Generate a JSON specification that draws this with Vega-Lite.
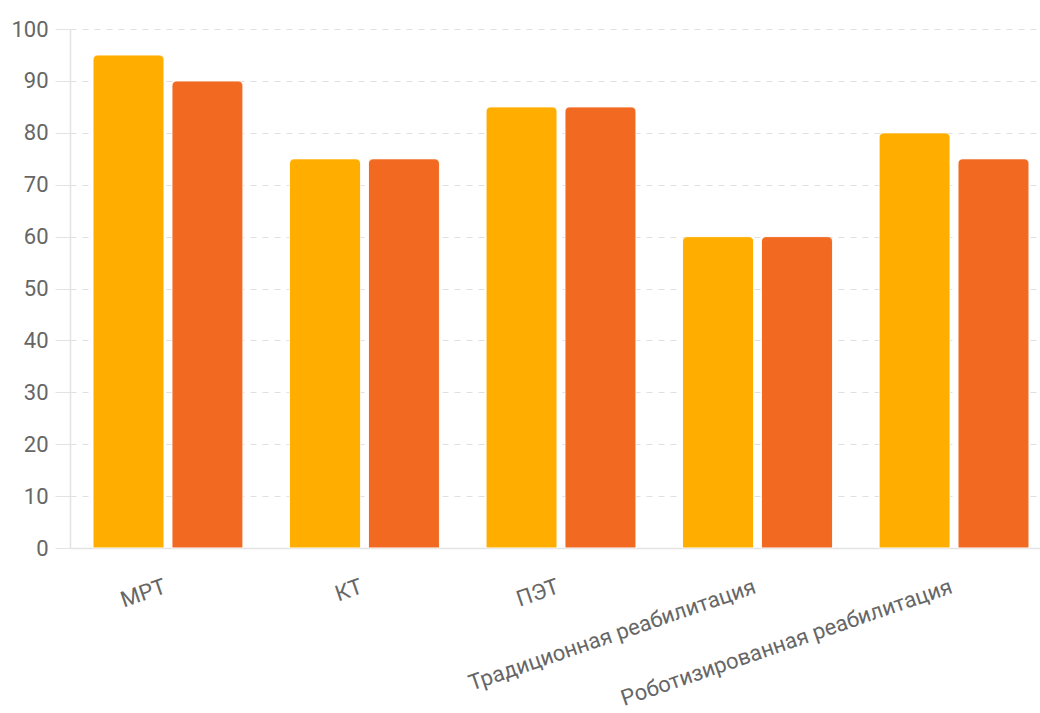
{
  "$schema": "https://vega.github.io/schema/vega-lite/v6.json",
  "autosize": {"type": "none"},
  "padding": {"left": 70, "top": 29, "right": 0, "bottom": 165},
  "width": 970,
  "height": 519,
  "background": "white",
  "data": {"values": [
    {"category": "МРТ", "series": "A", "value": 95},
    {"category": "МРТ", "series": "B", "value": 90},
    {"category": "КТ", "series": "A", "value": 75},
    {"category": "КТ", "series": "B", "value": 75},
    {"category": "ПЭТ", "series": "A", "value": 85},
    {"category": "ПЭТ", "series": "B", "value": 85},
    {"category": "Традиционная реабилитация", "series": "A", "value": 60},
    {"category": "Традиционная реабилитация", "series": "B", "value": 60},
    {"category": "Роботизированная реабилитация", "series": "A", "value": 80},
    {"category": "Роботизированная реабилитация", "series": "B", "value": 75}
  ]},
  "mark": {"type": "bar", "cornerRadiusTopLeft": 5, "cornerRadiusTopRight": 5, "stroke": "#ffffff", "strokeWidth": 1, "strokeOpacity": 0.6},
  "encoding": {
    "x": {
      "field": "category", "type": "nominal", "sort": null,
      "scale": {"paddingInner": 0.237, "paddingOuter": 0.117, "range": [0, 982]},
      "axis": {
        "title": null, "labelAngle": -19, "labelFontSize": 22, "labelFont": "Roboto",
        "labelColor": "#666666", "ticks": false, "labelPadding": 28, "labelOffset": -6,
        "domainColor": "#e3e3e3", "domainWidth": 1.5, "labelLimit": 450, "grid": false
      }
    },
    "xOffset": {"field": "series", "type": "nominal", "scale": {"paddingInner": 0.1}},
    "y": {
      "field": "value", "type": "quantitative",
      "scale": {"domain": [0, 100], "nice": false},
      "axis": {
        "title": null, "values": [0,10,20,30,40,50,60,70,80,90,100],
        "labelFontSize": 22, "labelFont": "Roboto", "labelColor": "#666666",
        "tickSize": 15, "tickColor": "#e3e3e3", "labelPadding": 7,
        "domainColor": "#e3e3e3", "domainWidth": 1.5,
        "gridColor": "#e0e0e0", "gridDash": [6, 6], "gridWidth": 1.2
      }
    },
    "color": {
      "field": "series", "type": "nominal",
      "scale": {"domain": ["A", "B"], "range": ["#FFAE00", "#F26A21"]},
      "legend": null
    }
  },
  "config": {"view": {"stroke": null}}
}
